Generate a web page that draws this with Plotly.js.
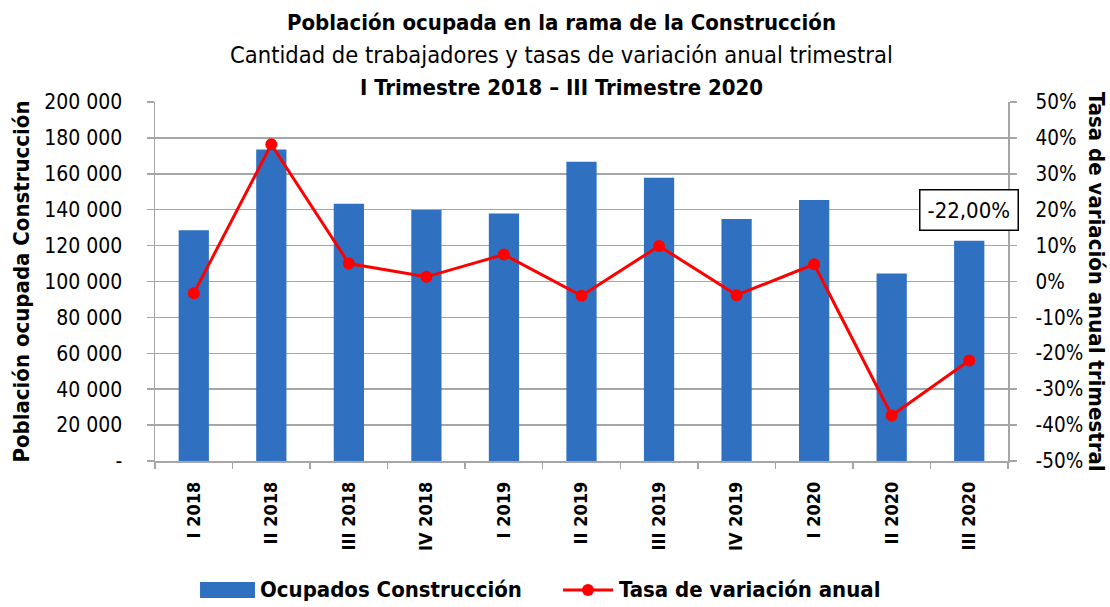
<!DOCTYPE html>
<html><head><meta charset="utf-8">
<script src="https://cdn.plot.ly/plotly-3.0.1.min.js"></script>
<style>html,body{margin:0;padding:0;background:#fff}#c{width:1110px;height:607px}</style>
</head><body><div id="c"></div>
<script>
const categories = ["I 2018","II 2018","III 2018","IV 2018","I 2019","II 2019","III 2019","IV 2019","I 2020","II 2020","III 2020"];
const ocupados = [128600,173600,143300,139800,137900,166700,157800,134800,145400,104500,122700];
const tasa = [-3.3,38.2,5.0,1.3,7.5,-4.0,9.9,-3.8,4.8,-37.3,-22.0];
const leftTickVals = [0,20000,40000,60000,80000,100000,120000,140000,160000,180000,200000];
const leftTickText = ["-","20 000","40 000","60 000","80 000","100 000","120 000","140 000","160 000","180 000","200 000"];
const rightTickVals = [-50,-40,-30,-20,-10,0,10,20,30,40,50];
const rightTickText = ["-50%","-40%","-30%","-20%","-10%","0%","10%","20%","30%","40%","50%"];
const seriesNames = ["Ocupados Construcción","Tasa de variación anual"];
const lastLabel = "-22,00%";

const F = "'DejaVu Sans Condensed', 'Open Sans', sans-serif";
const grid = "#a6a6a6";
const blue = "#3070c0", red = "#ff0000";

const traces = [
  {type:"bar", x:categories, y:ocupados, name:seriesNames[0],
   marker:{color:blue}, width:0.39},
  {type:"scatter", mode:"lines+markers", x:categories, y:tasa, yaxis:"y2",
   name:seriesNames[1], line:{color:red, width:3},
   marker:{color:red, size:12}}
];

const txt = (s, sz, bold) => ({size:sz, family:F, color:"#000", weight: bold ? "bold" : "normal"});

const layout = {
  width:1110, height:607,
  margin:{l:155, r:102, t:102, b:146, autoexpand:false},
  paper_bgcolor:"#fff", plot_bgcolor:"#fff",
  font:{family:F, color:"#000"},
  showlegend:false,
  xaxis:{type:"category", range:[-0.5, categories.length - 0.5], autorange:false,
         tickangle:-90, tickson:"boundaries", ticks:"outside", ticklen:6,
         tickcolor:grid, tickwidth:1.5, showline:true, linecolor:grid, linewidth:1.5, showgrid:false,
         ticklabelstandoff:12, tickfont:txt("",18,true)},
  yaxis:{range:[0,200000], tickvals:leftTickVals, ticktext:leftTickText,
         ticks:"outside", ticklen:7, tickcolor:grid, tickwidth:1.5, showline:true, linecolor:grid, linewidth:1.5,
         showgrid:true, gridcolor:grid, gridwidth:1.5, zeroline:false, ticklabelstandoff:20,
         tickfont:txt("",21,false),
         title:{text:"Población ocupada Construcción", font:txt("",22,true), standoff:8}},
  yaxis2:{range:[-50,50], overlaying:"y", side:"right", tickvals:rightTickVals, ticktext:rightTickText,
          ticks:"outside", ticklen:7, tickcolor:grid, tickwidth:1.5, showline:true, linecolor:grid, linewidth:1.5,
          showgrid:false, zeroline:false, ticklabelstandoff:15,
          tickfont:txt("",20.5,false)},
  shapes:[
    {type:"rect", xref:"paper", yref:"paper", x0:0.0528, x1:0.1172, y0:-0.3816, y1:-0.337,
     fillcolor:blue, line:{width:0}},
    {type:"line", xref:"paper", yref:"paper", x0:0.4783, x1:0.5369, y0:-0.3593, y1:-0.3593,
     line:{color:red, width:3}},
    {type:"circle", xref:"paper", yref:"paper", xsizemode:"pixel", ysizemode:"pixel",
     xanchor:0.5076, yanchor:-0.3593, x0:-6, x1:6, y0:-6, y1:6, fillcolor:red, line:{width:0}}
  ],
  annotations:[
    {xref:"paper", yref:"paper", x:0.477, y:1, yanchor:"middle", yshift:80, showarrow:false,
     text:"<b>Población ocupada en la rama de la Construcción</b>", font:txt("",22,false)},
    {xref:"paper", yref:"paper", x:0.477, y:1, yanchor:"middle", yshift:47, showarrow:false,
     text:"Cantidad de trabajadores y tasas de variación anual trimestral", font:txt("",23.5,false)},
    {xref:"paper", yref:"paper", x:0.477, y:1, yanchor:"middle", yshift:15, showarrow:false,
     text:"<b>I Trimestre 2018 – III Trimestre 2020</b>", font:txt("",22,false)},
    {xref:"paper", yref:"paper", x:1, xshift:103, y:0.5, showarrow:false, textangle:90,
     text:"<b>Tasa de variación anual trimestral</b>", font:txt("",22,false)},
    {xref:"x", yref:"y2", x:categories[10], y:tasa[10], showarrow:false, text:lastLabel,
     xshift:0, yshift:150, bordercolor:"#000", borderwidth:1.5, borderpad:7, bgcolor:"#fff",
     font:txt("",22,false)},
    {xref:"paper", yref:"paper", x:0.1208, xanchor:"left", y:-0.3593, yanchor:"middle", showarrow:false,
     text:"<b>"+seriesNames[0]+"</b>", font:txt("",22,false)},
    {xref:"paper", yref:"paper", x:0.5416, xanchor:"left", y:-0.3593, yanchor:"middle", showarrow:false,
     text:"<b>"+seriesNames[1]+"</b>", font:txt("",22,false)}
  ]
};
Plotly.newPlot("c", traces, layout, {displayModeBar:false, staticPlot:true});
</script></body></html>
